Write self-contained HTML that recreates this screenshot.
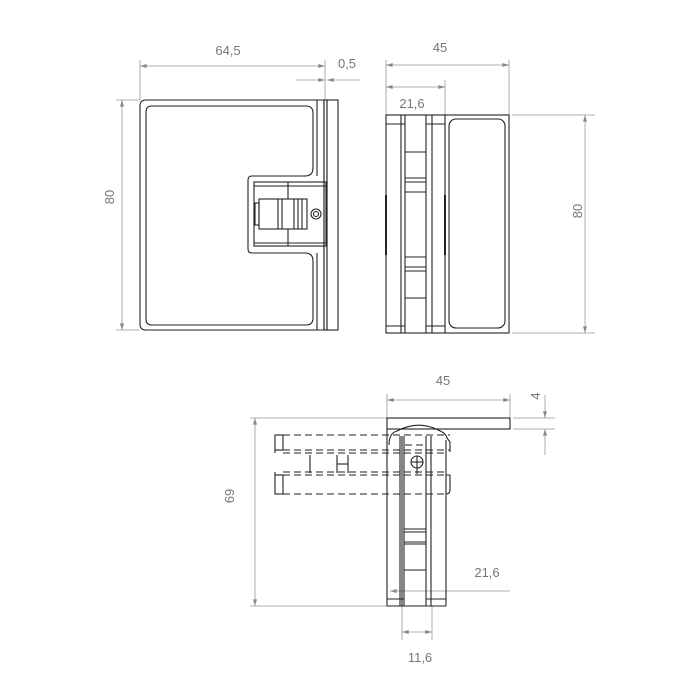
<!DOCTYPE html>
<html><head><meta charset="utf-8"><style>html,body{margin:0;padding:0;background:#fff}svg{display:block}</style></head>
<body>
<svg width="700" height="699" viewBox="0 0 700 699" xmlns="http://www.w3.org/2000/svg">
<defs>
<marker id="a" viewBox="0 0 10 6" refX="10" refY="3" markerWidth="10" markerHeight="4" orient="auto-start-reverse" markerUnits="userSpaceOnUse"><path d="M0,0 L10,3 L0,6 z" fill="#888"/></marker>
</defs>
<g stroke="#999" stroke-width="0.8" fill="none">
<line x1="140" y1="60" x2="140" y2="100"/>
<line x1="325" y1="60" x2="325" y2="100"/>
<line x1="140" y1="66" x2="325" y2="66" marker-start="url(#a)" marker-end="url(#a)"/>
<line x1="296" y1="80" x2="325" y2="80" marker-end="url(#a)"/>
<line x1="360" y1="80" x2="327" y2="80" marker-end="url(#a)"/>
<line x1="116" y1="100" x2="140" y2="100"/>
<line x1="116" y1="330" x2="140" y2="330"/>
<line x1="122" y1="100" x2="122" y2="330" marker-start="url(#a)" marker-end="url(#a)"/>
<line x1="386" y1="60" x2="386" y2="115"/>
<line x1="445" y1="80" x2="445" y2="115"/>
<line x1="509" y1="60" x2="509" y2="115"/>
<line x1="386" y1="65" x2="509" y2="65" marker-start="url(#a)" marker-end="url(#a)"/>
<line x1="386" y1="87" x2="445" y2="87" marker-start="url(#a)" marker-end="url(#a)"/>
<line x1="512" y1="115" x2="595" y2="115"/>
<line x1="512" y1="333" x2="595" y2="333"/>
<line x1="585" y1="115" x2="585" y2="333" marker-start="url(#a)" marker-end="url(#a)"/>
<line x1="387" y1="394" x2="387" y2="418"/>
<line x1="510" y1="394" x2="510" y2="418"/>
<line x1="387" y1="400" x2="510" y2="400" marker-start="url(#a)" marker-end="url(#a)"/>
<line x1="513" y1="418" x2="555" y2="418"/>
<line x1="513" y1="429" x2="555" y2="429"/>
<line x1="545" y1="395" x2="545" y2="418" marker-end="url(#a)"/>
<line x1="545" y1="455" x2="545" y2="429" marker-end="url(#a)"/>
<line x1="250" y1="418" x2="387" y2="418"/>
<line x1="250" y1="606" x2="387" y2="606"/>
<line x1="255" y1="418" x2="255" y2="606" marker-start="url(#a)" marker-end="url(#a)"/>
<line x1="390" y1="591" x2="510" y2="591" marker-start="url(#a)"/>
<line x1="402" y1="606" x2="402" y2="640"/>
<line x1="432" y1="606" x2="432" y2="640"/>
<line x1="402" y1="632" x2="432" y2="632" marker-start="url(#a)" marker-end="url(#a)"/>
</g>
<g font-family="Liberation Sans, sans-serif" font-size="13" fill="#777" text-anchor="middle">
<text x="228" y="55">64,5</text>
<text x="347" y="68">0,5</text>
<text x="114" y="197" transform="rotate(-90 114 197)">80</text>
<text x="440" y="52">45</text>
<text x="412" y="108">21,6</text>
<text x="582" y="211" transform="rotate(-90 582 211)">80</text>
<text x="443" y="385">45</text>
<text x="540" y="396" transform="rotate(-90 540 396)">4</text>
<text x="234" y="496" transform="rotate(-90 234 496)">69</text>
<text x="487" y="577">21,6</text>
<text x="420" y="662">11,6</text>
</g>
<g stroke="#222" stroke-width="1.1" fill="none">
<path d="M146,100 H324 V330 H146 Q140,330 140,324 V106 Q140,100 146,100 Z"/>
<path d="M152,106 H306 Q313,106 313,113 V168 Q313,176 305,176 H252 Q248,176 248,180 V249 Q248,253 252,253 H305 Q313,253 313,261 V318 Q313,325 306,325 H152 Q146,325 146,319 V112 Q146,106 152,106 Z"/>
<line x1="317" y1="100" x2="317" y2="176"/><line x1="317" y1="253" x2="317" y2="330"/>
<rect x="324" y="100" width="3" height="230"/>
<rect x="327" y="100" width="11" height="230"/>
<rect x="254" y="182" width="72" height="64"/>
<line x1="288" y1="182" x2="288" y2="199"/><line x1="288" y1="229" x2="288" y2="246"/>
<line x1="254" y1="186" x2="326" y2="186"/><line x1="254" y1="243" x2="326" y2="243"/>
<rect x="259" y="199" width="48" height="30"/>
<line x1="278" y1="199" x2="278" y2="229"/><line x1="282" y1="199" x2="282" y2="229"/>
<line x1="294" y1="199" x2="294" y2="229"/><line x1="298" y1="199" x2="298" y2="229"/><line x1="302" y1="199" x2="302" y2="229"/>
<rect x="255" y="203" width="4" height="22"/>
<circle cx="316" cy="214" r="5"/><circle cx="316" cy="214" r="2.5"/>
<rect x="386" y="115" width="123" height="218"/>
<line x1="401" y1="115" x2="401" y2="333"/><line x1="405" y1="115" x2="405" y2="333"/>
<line x1="426" y1="115" x2="426" y2="333"/><line x1="432" y1="115" x2="432" y2="333"/>
<line x1="445" y1="115" x2="445" y2="333"/>
<rect x="449" y="119" width="56" height="209" rx="7"/>
<line x1="386" y1="124" x2="405" y2="124"/><line x1="426" y1="124" x2="445" y2="124"/>
<line x1="386" y1="326" x2="405" y2="326"/><line x1="426" y1="326" x2="445" y2="326"/>
<line x1="405" y1="152" x2="426" y2="152"/><line x1="405" y1="178" x2="426" y2="178"/>
<line x1="405" y1="182" x2="426" y2="182"/><line x1="405" y1="192" x2="426" y2="192"/>
<line x1="405" y1="257" x2="426" y2="257"/><line x1="405" y1="267" x2="426" y2="267"/>
<line x1="405" y1="271" x2="426" y2="271"/><line x1="405" y1="298" x2="426" y2="298"/>
<line x1="386" y1="195" x2="386" y2="255" stroke-width="2"/><line x1="445" y1="195" x2="445" y2="255" stroke-width="2"/>
<rect x="387" y="418" width="123" height="11"/>
<line x1="387" y1="429" x2="387" y2="606"/>
<line x1="446" y1="440" x2="446" y2="606"/>
<path d="M389,445 Q389,433 397,431 Q418,420 438,430 Q446,433 447,438 L450,442 V452"/>
<line x1="402" y1="436" x2="402" y2="606"/>
<line x1="400" y1="436" x2="400" y2="606"/><line x1="404" y1="436" x2="404" y2="606"/>
<line x1="426" y1="436" x2="426" y2="606"/><line x1="431" y1="436" x2="431" y2="606"/>
<line x1="387" y1="606" x2="446" y2="606"/>
<line x1="387" y1="599" x2="404" y2="599"/><line x1="426" y1="599" x2="446" y2="599"/>
<line x1="404" y1="529" x2="426" y2="529"/><line x1="404" y1="532" x2="426" y2="532"/>
<line x1="404" y1="542" x2="426" y2="542"/><line x1="404" y1="544" x2="426" y2="544"/>
<line x1="404" y1="570" x2="426" y2="570"/>
<path d="M446,475 H450 V490 Q450,494 446,494"/>
<circle cx="417" cy="462" r="6"/><line x1="417" y1="456" x2="417" y2="474"/><line x1="411" y1="462" x2="423" y2="462"/>
<rect x="275" y="435" width="8" height="15"/>
<rect x="275" y="475" width="8" height="19"/>
<line x1="275" y1="450" x2="275" y2="453"/><line x1="275" y1="472" x2="275" y2="475"/>
<line x1="310" y1="455" x2="310" y2="473"/><line x1="337" y1="455" x2="337" y2="473"/><line x1="348" y1="455" x2="348" y2="473"/>
<line x1="337" y1="464" x2="348" y2="464"/>
</g>
<g stroke="#222" stroke-width="1" fill="none" stroke-dasharray="7,4">
<line x1="283" y1="435" x2="450" y2="435"/><line x1="283" y1="450" x2="450" y2="450"/>
<line x1="283" y1="453" x2="446" y2="453"/>
<line x1="283" y1="472" x2="446" y2="472"/>
<line x1="283" y1="475" x2="446" y2="475"/><line x1="283" y1="494" x2="446" y2="494"/>
<line x1="405" y1="445" x2="426" y2="445"/>
</g>
</svg>
</body></html>
